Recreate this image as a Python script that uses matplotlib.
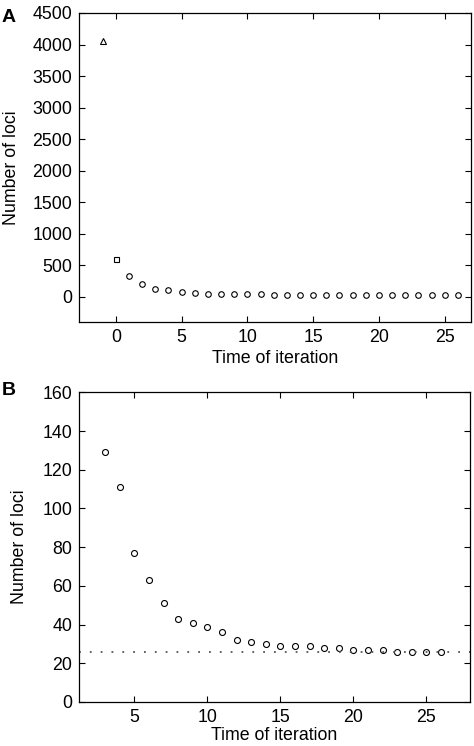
import matplotlib.pyplot as plt
import numpy as np

plt.rcParams['font.family'] = ['Liberation Sans', 'DejaVu Sans']
plt.rcParams['font.size'] = 12.8

# 面板 A 数据
start_x = [-1]
start_y = [4050]
init_x = [0]
init_y = [605]
iter_x = list(range(1, 27))
iter_y = [330, 200, 129, 111, 77, 63, 51, 43, 41, 39, 36, 32, 31, 30,
          29, 29, 29, 28, 28, 27, 27, 27, 26, 26, 26, 26]

# 面板 B 数据 (从第 3 次迭代开始)
b_x = iter_x[2:]
b_y = iter_y[2:]
baseline = 26

fig = plt.figure(figsize=(4.74, 7.46), dpi=100)

mk = dict(linestyle='none', markerfacecolor='white', markeredgecolor='black',
          markeredgewidth=0.8)

def style(ax):
    ax.tick_params(direction='in', top=True, right=True, length=4, width=0.8,
                   pad=5)
    for s in ax.spines.values():
        s.set_linewidth(0.9)

# A
axA = fig.add_axes([0.1667, 0.5684, 0.827, 0.4142])
axA.plot(start_x, start_y, marker='^', markersize=4.2, **mk)
axA.plot(init_x, init_y, marker='s', markersize=3.6, **mk)
axA.plot(iter_x, iter_y, marker='o', markersize=4.0, **mk)
axA.set_xlim(-2.8, 27)
axA.set_ylim(-400, 4500)
axA.set_xticks([0, 5, 10, 15, 20, 25])
axA.set_yticks(np.arange(0, 4501, 500))
axA.set_xlabel("Time of iteration", labelpad=3)
axA.set_ylabel("Number of loci", labelpad=9)
style(axA)
fig.text(0.004, 0.988, "A", fontsize=14, fontweight='bold', va='top')

# B
axB = fig.add_axes([0.1667, 0.059, 0.825, 0.4151])
axB.plot(b_x, b_y, marker='o', markersize=4.3, **mk)
axB.axhline(baseline, color='#555555', linestyle=(0, (1, 5)), linewidth=1.3)
axB.set_xlim(1.2, 28)
axB.set_ylim(0, 160)
axB.set_xticks([5, 10, 15, 20, 25])
axB.set_yticks(np.arange(0, 161, 20))
axB.set_xlabel("Time of iteration", labelpad=1)
axB.set_ylabel("Number of loci", labelpad=10)
style(axB)
fig.text(0.004, 0.488, "B", fontsize=14, fontweight='bold', va='top')

plt.savefig("out.png", dpi=100)
